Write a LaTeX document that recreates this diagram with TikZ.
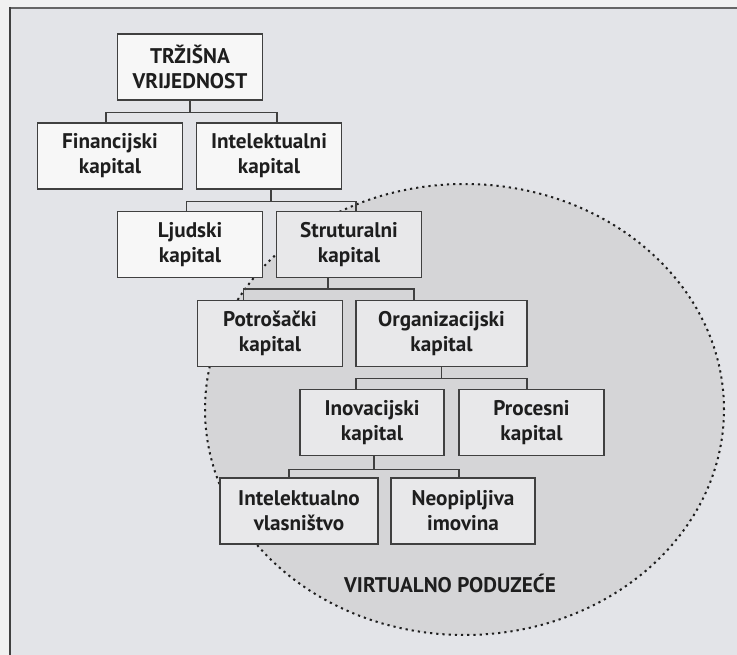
\documentclass[tikz,border=0pt]{standalone}
\usepackage{fontspec}
\setmainfont{PT Sans}
\definecolor{pagebg}{HTML}{F1F1F1}
\definecolor{panelbg}{HTML}{E3E4E8}
\definecolor{ellbg}{HTML}{D5D5D7}
\definecolor{boxout}{HTML}{F7F7F7}
\definecolor{boxin}{HTML}{E8E8EA}
\definecolor{ink}{HTML}{1E1E1E}
\begin{document}
\begin{tikzpicture}[x=1pt,y=-1pt,
  boxbase/.style={draw=ink!85, line width=1.3pt, align=center, inner sep=0pt,
    minimum height=66pt, text=ink,
    font=\fontsize{21.2}{25}\selectfont\bfseries},
  outbox/.style={boxbase, fill=boxout},
  inbox/.style={boxbase, fill=boxin},
  conn/.style={draw=ink!85, line width=1.3pt},
  lbl/.style={text=ink, inner sep=0pt, font=\fontsize{21.2}{25}\selectfont\bfseries}]
\useasboundingbox (0,0) rectangle (737,655);
% page and panel
\fill[pagebg] (0,0) rectangle (737,655);
\fill[panelbg] (10,8) rectangle (737,655);
\draw[line width=1.2pt, draw=black!60] (10,8) -- (737,8);
\draw[line width=2pt, draw=black!75] (10,7) -- (10,655);
% virtual enterprise ellipse
\fill[ellbg] (464.5,409.5) ellipse [x radius=259.5pt, y radius=225.5pt];
\draw[line width=2pt, dash pattern=on 2.2pt off 4pt, draw=ink]
  (464.5,409.5) ellipse [x radius=259.5pt, y radius=225.5pt];
\node[lbl] (ve) at (450,583) {VIRTUALNO PODUZEĆE};
% boxes
\node[outbox, minimum width=145pt] (tv)  at (190,67)    {TRŽIŠNA\\VRIJEDNOST};
\node[outbox, minimum width=145pt] (fin) at (110,156)   {Financijski\\kapital};
\node[outbox, minimum width=145pt] (int) at (269,156)   {Intelektualni\\kapital};
\node[outbox, minimum width=145pt] (lj)  at (190,244.5) {Ljudski\\kapital};
\node[inbox,  minimum width=145pt] (str) at (349,244.5) {Struturalni\\kapital};
\node[inbox,  minimum width=145pt] (pot) at (270,333.5) {Potrošački\\kapital};
\node[inbox,  minimum width=171pt] (org) at (441.5,333.5) {Organizacijski\\kapital};
\node[inbox,  minimum width=144pt] (ino) at (372,422.5) {Inovacijski\\kapital};
\node[inbox,  minimum width=145pt] (pro) at (531.5,422.5) {Procesni\\kapital};
\node[inbox,  minimum width=158pt] (iv)  at (299,511)   {Intelektualno\\vlasništvo};
\node[inbox,  minimum width=144pt] (neo) at (463,511)   {Neopipljiva\\imovina};
% connectors
\draw[conn] (tv.south) -- ++(0,12) coordinate (j1);
\draw[conn] ([xshift=-4pt]fin.north) |- (j1) -| ([xshift=8pt]int.north);
\draw[conn] ([xshift=2pt]int.south) -- ++(0,12) coordinate (j2);
\draw[conn] ([xshift=-3.5pt]lj.north) |- (j2) -| ([xshift=7pt]str.north);
\draw[conn] ([xshift=-21pt]str.south) -- ++(0,11) coordinate (j3);
\draw[conn] ([xshift=-26.5pt]pot.north) |- (j3) -| ([xshift=-27.5pt]org.north);
\draw[conn] (org.south) -- ++(0,11) coordinate (j4);
\draw[conn] ([xshift=-16pt]ino.north) |- (j4) -| ([xshift=-4.5pt]pro.north);
\draw[conn] ([xshift=2pt]ino.south) -- ++(0,13) coordinate (j5);
\draw[conn] ([xshift=-10pt]iv.north) |- (j5) -| ([xshift=-4pt]neo.north);
\end{tikzpicture}
\end{document}
